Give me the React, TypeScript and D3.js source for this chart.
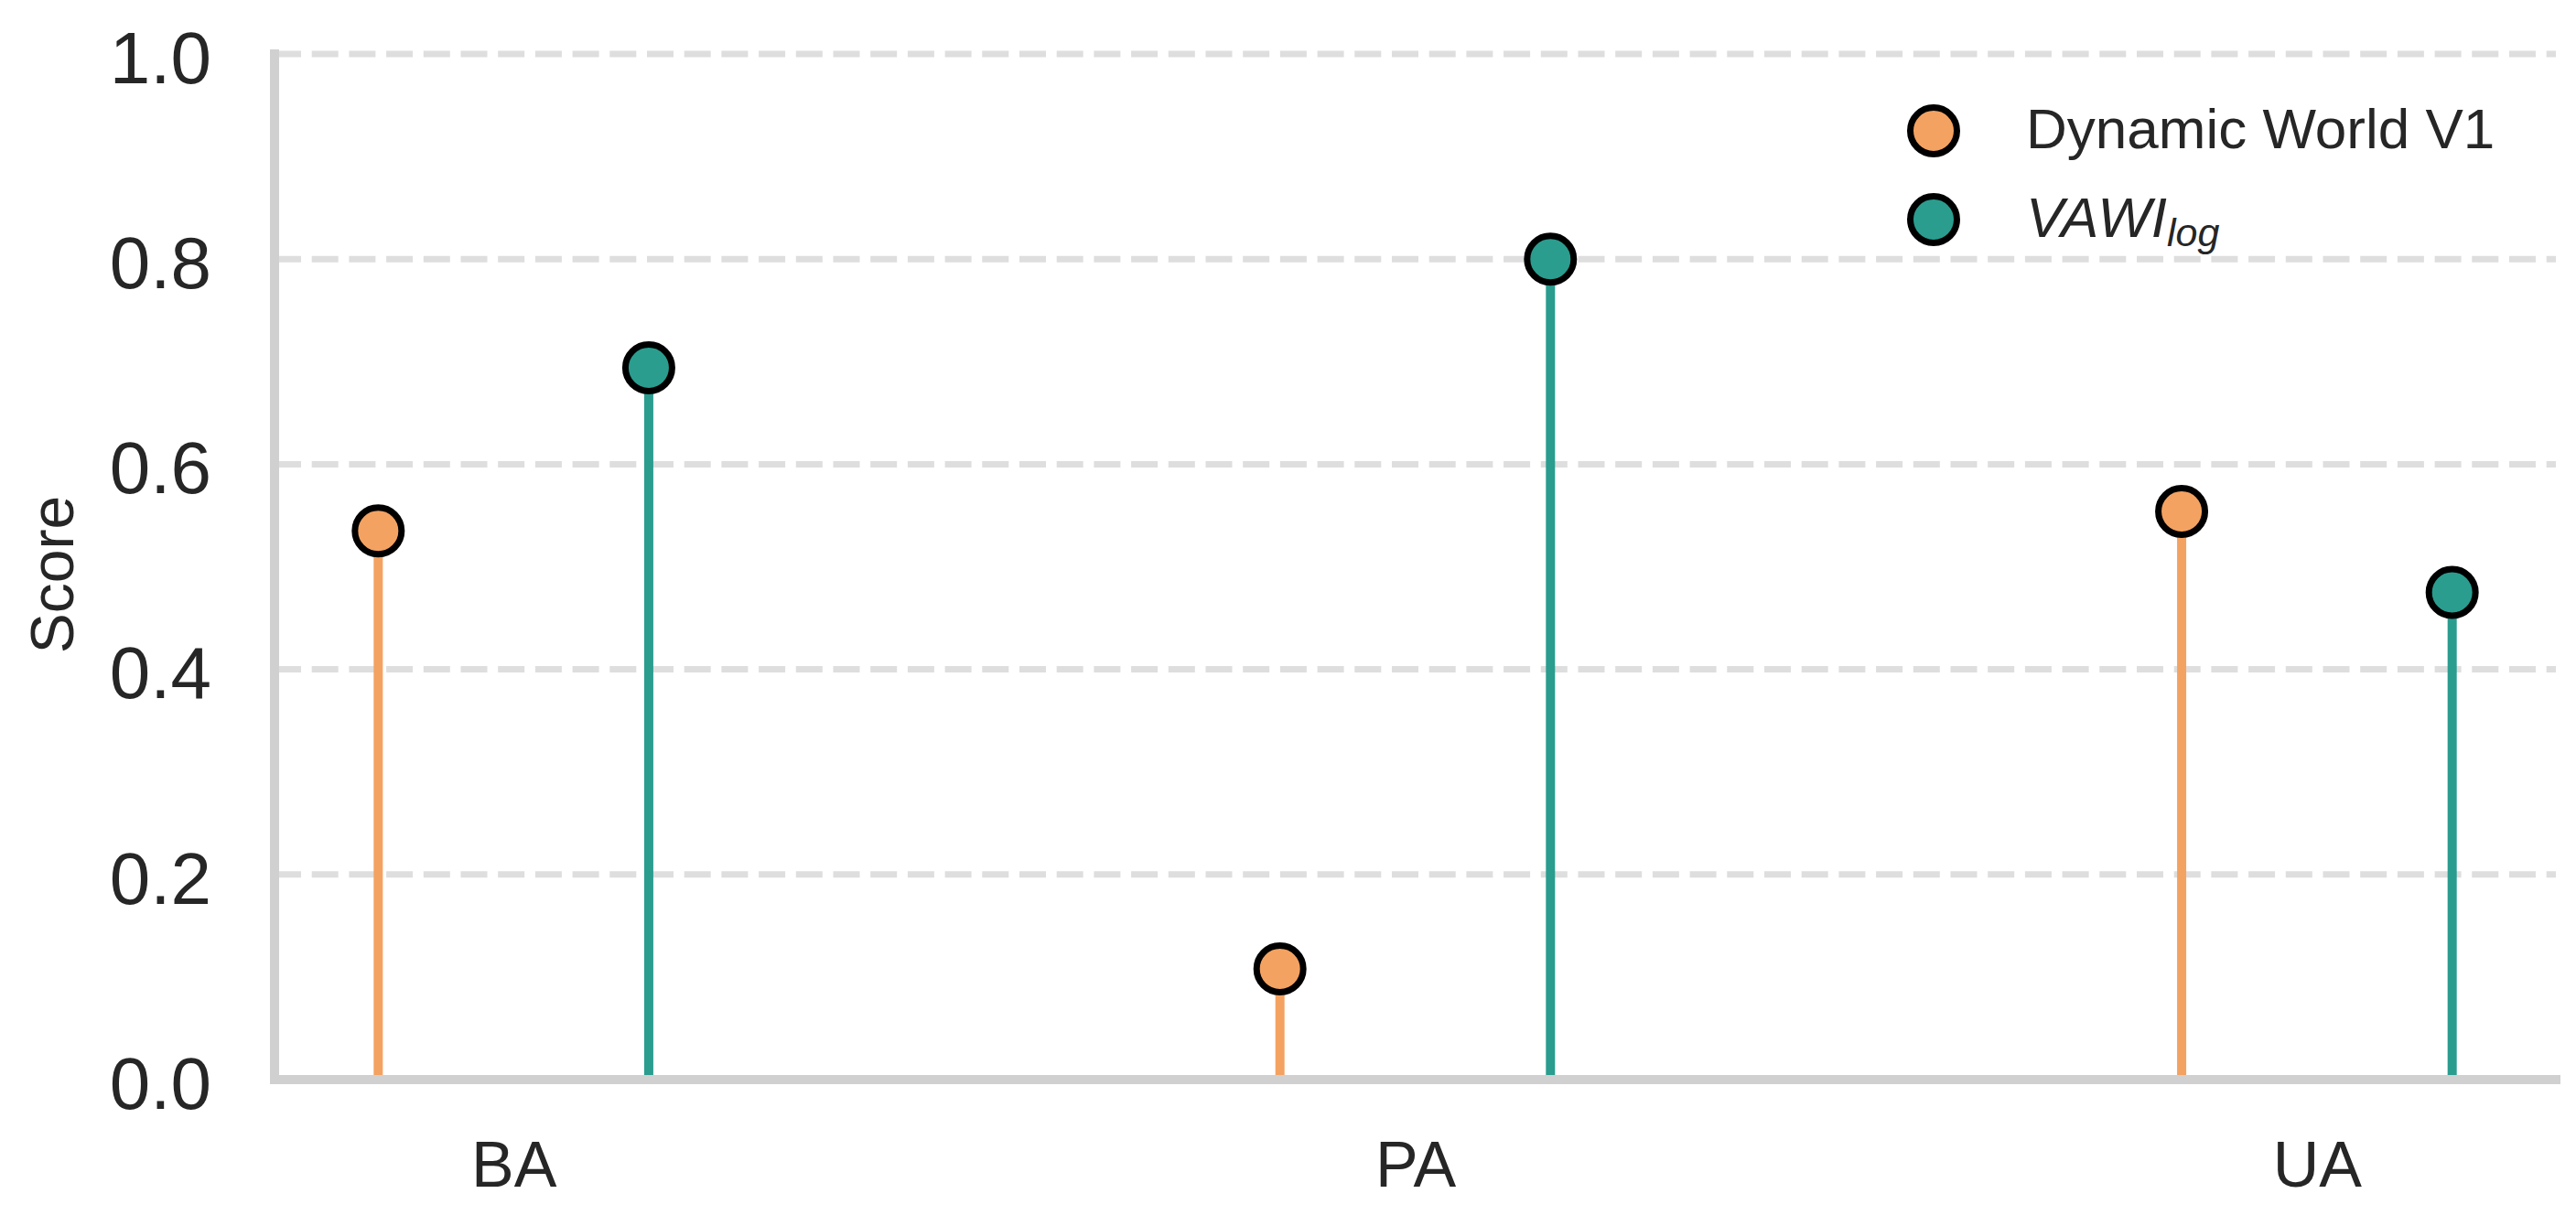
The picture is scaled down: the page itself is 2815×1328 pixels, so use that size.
import { useEffect, useRef } from 'react';
import * as d3 from 'd3';

const categories = ['BA', 'PA', 'UA'];
const dynamicWorld = [0.535, 0.108, 0.554];
const vawiLog = [0.694, 0.8, 0.475];
const yTicks = [0, 0.2, 0.4, 0.6, 0.8, 1.0];

const W = 2815;
const H = 1328;
const FONT = '"Liberation Sans", Arial, Helvetica, sans-serif';
const ORANGE = '#f4a261';
const TEAL = '#2a9d8f';
const SPINE = '#d0d0d0';
const GRID = '#dedede';

const series = [
  { name: 'Dynamic World V1', values: dynamicWorld, color: ORANGE, offset: -0.15 },
  { name: 'VAWI', sub: 'log', values: vawiLog, color: TEAL, offset: 0.15 },
];

const App = () => {
  const svgRef = useRef<SVGSVGElement>(null);

  useEffect(() => {
    const svg = d3.select(svgRef.current);
    svg.selectAll('*').remove();

    const left = 300;
    const right = 2793;
    const top = 59;
    const bottom = 1180;

    const x = d3.scaleLinear().domain([-0.265, 2.265]).range([left, right]);
    const y = d3.scaleLinear().domain([0, 1]).range([bottom, top]);

    svg.append('rect').attr('width', W).attr('height', H).attr('fill', '#fff');

    // horizontal dashed grid
    svg.append('g')
      .selectAll('line')
      .data(yTicks.filter(t => t > 0))
      .join('line')
      .attr('x1', left)
      .attr('x2', right)
      .attr('y1', d => y(d))
      .attr('y2', d => y(d))
      .attr('stroke', GRID)
      .attr('stroke-width', 7)
      .attr('stroke-dasharray', '29,11.7');

    // y axis labels
    const yAxis = svg.append('g')
      .attr('transform', `translate(${left},0)`)
      .call(d3.axisLeft(y).tickValues(yTicks).tickSize(0).tickPadding(69).tickFormat(d3.format('.1f')));
    yAxis.select('.domain').remove();
    yAxis.selectAll('text')
      .attr('dy', '0.39em')
      .attr('font-family', FONT)
      .attr('font-size', 80)
      .attr('fill', '#262626');

    // x axis labels
    const xAxis = svg.append('g')
      .attr('transform', `translate(0,${bottom})`)
      .call(d3.axisBottom(x).tickValues([0, 1, 2]).tickSize(0).tickPadding(67).tickFormat(i => categories[+i]));
    xAxis.select('.domain').remove();
    xAxis.selectAll('text')
      .attr('font-family', FONT)
      .attr('font-size', 70)
      .attr('fill', '#262626');

    // stems
    series.forEach(s => {
      svg.append('g')
        .selectAll('line')
        .data(s.values)
        .join('line')
        .attr('x1', (d, i) => x(i + s.offset))
        .attr('x2', (d, i) => x(i + s.offset))
        .attr('y1', y(0))
        .attr('y2', d => y(d))
        .attr('stroke', s.color)
        .attr('stroke-width', 10);
    });

    // spines
    svg.append('line')
      .attr('x1', left).attr('x2', left).attr('y1', top).attr('y2', bottom)
      .attr('stroke', SPINE).attr('stroke-width', 10).attr('stroke-linecap', 'square');
    svg.append('line')
      .attr('x1', left).attr('x2', right).attr('y1', bottom).attr('y2', bottom)
      .attr('stroke', SPINE).attr('stroke-width', 10).attr('stroke-linecap', 'square');

    // markers
    series.forEach(s => {
      svg.append('g')
        .selectAll('circle')
        .data(s.values)
        .join('circle')
        .attr('cx', (d, i) => x(i + s.offset))
        .attr('cy', d => y(d))
        .attr('r', 25.5)
        .attr('fill', s.color)
        .attr('stroke', '#000')
        .attr('stroke-width', 7);
    });

    // y label
    svg.append('text')
      .attr('transform', `translate(80,628) rotate(-90)`)
      .attr('text-anchor', 'middle')
      .attr('font-family', FONT)
      .attr('font-size', 66)
      .attr('fill', '#262626')
      .text('Score');

    // legend
    const legend = svg.append('g');
    const rows = legend.selectAll('g')
      .data(series)
      .join('g')
      .attr('transform', (d, i) => `translate(2113,${143 + i * 97})`);
    rows.append('circle')
      .attr('r', 25.5)
      .attr('fill', d => d.color)
      .attr('stroke', '#000')
      .attr('stroke-width', 7);
    const label = rows.append('text')
      .attr('x', 101)
      .attr('y', 19)
      .attr('font-family', FONT)
      .attr('font-size', 62)
      .attr('fill', '#262626')
      .attr('font-style', d => (d.sub ? 'italic' : 'normal'));
    label.append('tspan').text(d => d.name);
    label.filter(d => !!d.sub)
      .append('tspan')
      .attr('font-size', 43)
      .attr('dy', 10)
      .text(d => d.sub as string);
  }, []);

  return (
    <svg
      ref={svgRef}
      width={W}
      height={H}
      style={{ position: 'absolute', left: 0, top: 0, display: 'block' }}
    />
  );
};

export default App;
